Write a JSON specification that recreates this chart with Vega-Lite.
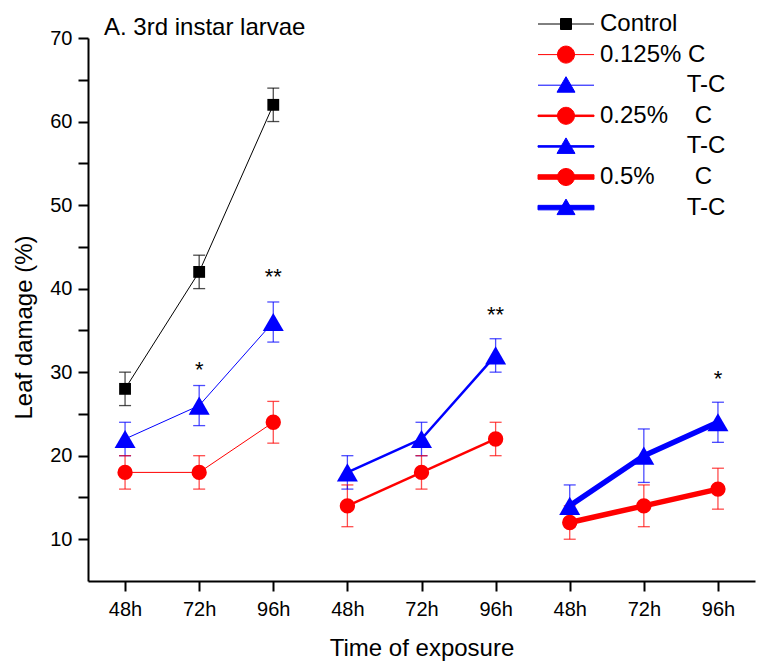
{
  "$schema": "https://vega.github.io/schema/vega-lite/v6.json",
  "width": 667,
  "height": 543,
  "autosize": "none",
  "padding": {"left": 88, "top": 38, "right": 14, "bottom": 89},
  "background": "white",
  "title": {"text": "A. 3rd instar larvae", "anchor": "start", "frame": "group", "dx": 16, "offset": -47, "baseline": "alphabetic", "fontSize": 24, "fontWeight": "normal", "font": "Liberation Sans", "color": "black"},
  "config": {
    "view": {"stroke": null},
    "font": "Liberation Sans",
    "axis": {"grid": false, "domainColor": "black", "domainWidth": 2, "tickColor": "black", "tickWidth": 2, "tickSize": 10, "labelColor": "black", "titleColor": "black", "labelFont": "Liberation Sans", "titleFont": "Liberation Sans", "labelFontSize": 20, "titleFontSize": 24, "titleFontWeight": "normal"}
  },
  "datasets": {
    "pts": [
      {"series": "Control", "x": 1, "y": 28, "lo": 26, "hi": 30},
      {"series": "Control", "x": 2, "y": 42, "lo": 40, "hi": 44},
      {"series": "Control", "x": 3, "y": 62, "lo": 60, "hi": 64},
      {"series": "0.125% C", "x": 1, "y": 18, "lo": 16, "hi": 20},
      {"series": "0.125% C", "x": 2, "y": 18, "lo": 16, "hi": 20},
      {"series": "0.125% C", "x": 3, "y": 24, "lo": 21.5, "hi": 26.5},
      {"series": "0.125% T-C", "x": 1, "y": 22, "lo": 20, "hi": 24},
      {"series": "0.125% T-C", "x": 2, "y": 26, "lo": 23.6, "hi": 28.4},
      {"series": "0.125% T-C", "x": 3, "y": 36, "lo": 33.6, "hi": 38.4},
      {"series": "0.25% C", "x": 4, "y": 14, "lo": 11.5, "hi": 16.5},
      {"series": "0.25% C", "x": 5, "y": 18, "lo": 16, "hi": 20},
      {"series": "0.25% C", "x": 6, "y": 22, "lo": 20, "hi": 24},
      {"series": "0.25% T-C", "x": 4, "y": 18, "lo": 16, "hi": 20},
      {"series": "0.25% T-C", "x": 5, "y": 22, "lo": 20, "hi": 24},
      {"series": "0.25% T-C", "x": 6, "y": 32, "lo": 30, "hi": 34},
      {"series": "0.5% C", "x": 7, "y": 12, "lo": 10, "hi": 14},
      {"series": "0.5% C", "x": 8, "y": 14, "lo": 11.5, "hi": 16.5},
      {"series": "0.5% C", "x": 9, "y": 16, "lo": 13.6, "hi": 18.5},
      {"series": "0.5% T-C", "x": 7, "y": 14, "lo": 11.5, "hi": 16.5},
      {"series": "0.5% T-C", "x": 8, "y": 20, "lo": 16.8, "hi": 23.2},
      {"series": "0.5% T-C", "x": 9, "y": 24, "lo": 21.6, "hi": 26.4}
    ],
    "stars": [
      {"x": 2, "y": 29.4, "label": "*"},
      {"x": 3, "y": 40.5, "label": "**"},
      {"x": 6, "y": 36.0, "label": "**"},
      {"x": 9, "y": 28.3, "label": "*"}
    ]
  },
  "data": {"name": "pts"},
  "encoding": {
    "x": {"field": "x", "type": "quantitative", "scale": {"domain": [0.5, 9.5]},
      "axis": {"values": [1, 2, 3, 4, 5, 6, 7, 8, 9], "labelExpr": "datum.value % 3 == 1 ? '48h' : (datum.value % 3 == 2 ? '72h' : '96h')", "title": "Time of exposure", "titlePadding": 17, "labelPadding": 8}}
  },
  "layer": [
    {
      "mark": {"type": "line", "strokeJoin": "round"},
      "encoding": {
        "y": {"field": "y", "type": "quantitative", "scale": {"domain": [5, 70]},
          "axis": {"values": [10, 15, 20, 25, 30, 35, 40, 45, 50, 55, 60, 65, 70], "labelExpr": "datum.value % 10 == 0 ? datum.label : ''", "title": "Leaf damage (%)", "titlePadding": 13, "labelPadding": 6, "titleY": 289}},
        "color": {"field": "series", "type": "nominal", "scale": {"domain": ["Control", "0.125% C", "0.125% T-C", "0.25% C", "0.25% T-C", "0.5% C", "0.5% T-C"], "range": ["#000000", "#ff0000", "#0000ff", "#ff0000", "#0000ff", "#ff0000", "#0000ff"]}, "legend": null},
        "strokeWidth": {"field": "series", "type": "nominal", "scale": {"type": "ordinal", "domain": ["Control", "0.125% C", "0.125% T-C", "0.25% C", "0.25% T-C", "0.5% C", "0.5% T-C"], "range": [1, 1, 1, 2.5, 2.5, 5.5, 5.5]}, "legend": null}
      }
    },
    {
      "mark": {"type": "rule", "opacity": 0.7, "strokeWidth": 1.3},
      "encoding": {
        "y": {"field": "lo", "type": "quantitative"},
        "y2": {"field": "hi"},
        "color": {"field": "series", "type": "nominal", "legend": null}
      }
    },
    {
      "mark": {"type": "tick", "orient": "horizontal", "size": 12, "thickness": 1.3, "opacity": 0.7},
      "encoding": {
        "y": {"field": "lo", "type": "quantitative"},
        "color": {"field": "series", "type": "nominal", "legend": null}
      }
    },
    {
      "mark": {"type": "tick", "orient": "horizontal", "size": 12, "thickness": 1.3, "opacity": 0.7},
      "encoding": {
        "y": {"field": "hi", "type": "quantitative"},
        "color": {"field": "series", "type": "nominal", "legend": null}
      }
    },
    {
      "mark": {"type": "point", "filled": true, "opacity": 1},
      "encoding": {
        "y": {"field": "y", "type": "quantitative"},
        "color": {"field": "series", "type": "nominal", "legend": null},
        "shape": {"field": "series", "type": "nominal", "scale": {"domain": ["Control", "0.125% C", "0.125% T-C", "0.25% C", "0.25% T-C", "0.5% C", "0.5% T-C"], "range": ["square", "circle", "triangle-up", "circle", "triangle-up", "circle", "triangle-up"]}, "legend": null},
        "size": {"field": "series", "type": "nominal", "scale": {"type": "ordinal", "domain": ["Control", "0.125% C", "0.125% T-C", "0.25% C", "0.25% T-C", "0.5% C", "0.5% T-C"], "range": [140, 235, 441, 235, 441, 235, 441]}, "legend": null}
      }
    },
    {
      "transform": [{"filter": "datum.x > 100"}],
      "mark": {"type": "point", "opacity": 1},
      "encoding": {
        "y": {"field": "y", "type": "quantitative"},
        "fill": {"field": "series", "type": "nominal", "scale": {"domain": ["Control", "0.125% C", "0.125% T-C", "0.25% C", "0.25% T-C", "0.5% C", "0.5% T-C"], "range": ["#000000", "#ff0000", "#0000ff", "#ff0000", "#0000ff", "#ff0000", "#0000ff"]}},
        "stroke": {"field": "series", "type": "nominal", "scale": {"domain": ["Control", "0.125% C", "0.125% T-C", "0.25% C", "0.25% T-C", "0.5% C", "0.5% T-C"], "range": ["#000000", "#ff0000", "#0000ff", "#ff0000", "#0000ff", "#ff0000", "#0000ff"]}},
        "shape": {"field": "series", "type": "nominal",
          "scale": {"domain": ["Control", "0.125% C", "0.125% T-C", "0.25% C", "0.25% T-C", "0.5% C", "0.5% T-C"],
            "range": [
              "M-2.8,0L2.8,0M-0.55,-0.55L0.55,-0.55L0.55,0.55L-0.55,0.55Z",
              "M-2.8,0L2.8,0M-0.85,0A0.85,0.85,0,1,1,0.85,0A0.85,0.85,0,1,1,-0.85,0Z",
              "M-2.8,0L2.8,0M0,-0.85L0.9,0.7L-0.9,0.7Z",
              "M-2.8,-0.075L2.8,-0.075L2.8,0.075L-2.8,0.075ZM-0.85,0A0.85,0.85,0,1,1,0.85,0A0.85,0.85,0,1,1,-0.85,0Z",
              "M-2.8,-0.075L2.8,-0.075L2.8,0.075L-2.8,0.075ZM0,-0.85L0.9,0.7L-0.9,0.7Z",
              "M-2.8,-0.225L2.8,-0.225L2.8,0.225L-2.8,0.225ZM-0.85,0A0.85,0.85,0,1,1,0.85,0A0.85,0.85,0,1,1,-0.85,0Z",
              "M-2.8,-0.225L2.8,-0.225L2.8,0.225L-2.8,0.225ZM0,-0.85L0.9,0.7L-0.9,0.7Z"
            ]},
          "legend": {
            "title": null, "orient": "none", "legendX": 466, "legendY": -26, "padding": 0,
            "symbolSize": 400, "symbolStrokeWidth": 1, "labelFontSize": 24, "labelFont": "Liberation Sans", "labelColor": "black",
            "labelOffset": 22, "rowPadding": 6.6, "symbolOpacity": 1,
            "symbolFillColor": "black", "symbolStrokeColor": "black",
            "labelExpr": "datum.value == 'Control' ? 'Control' : (datum.value == '0.125% C' ? '0.125%\u00a0C' : (datum.value == '0.25% C' ? '0.25%\u00a0\u00a0\u00a0\u00a0C' : (datum.value == '0.5% C' ? '0.5%\u00a0\u00a0\u00a0\u00a0\u00a0\u00a0C' : '\u200b\u00a0\u00a0\u00a0\u00a0\u00a0\u00a0\u00a0\u00a0\u00a0\u00a0\u00a0\u00a0\u00a0T-C')))"
          }
        }
      }
    },
    {
      "data": {"name": "stars"},
      "mark": {"type": "text", "fontSize": 22, "baseline": "alphabetic", "color": "black", "font": "Liberation Sans"},
      "encoding": {
        "y": {"field": "y", "type": "quantitative"},
        "text": {"field": "label"}
      }
    }
  ],
  "resolve": {"scale": {"shape": "independent", "size": "independent"}, "legend": {"shape": "independent", "fill": "independent", "stroke": "independent"}}
}
